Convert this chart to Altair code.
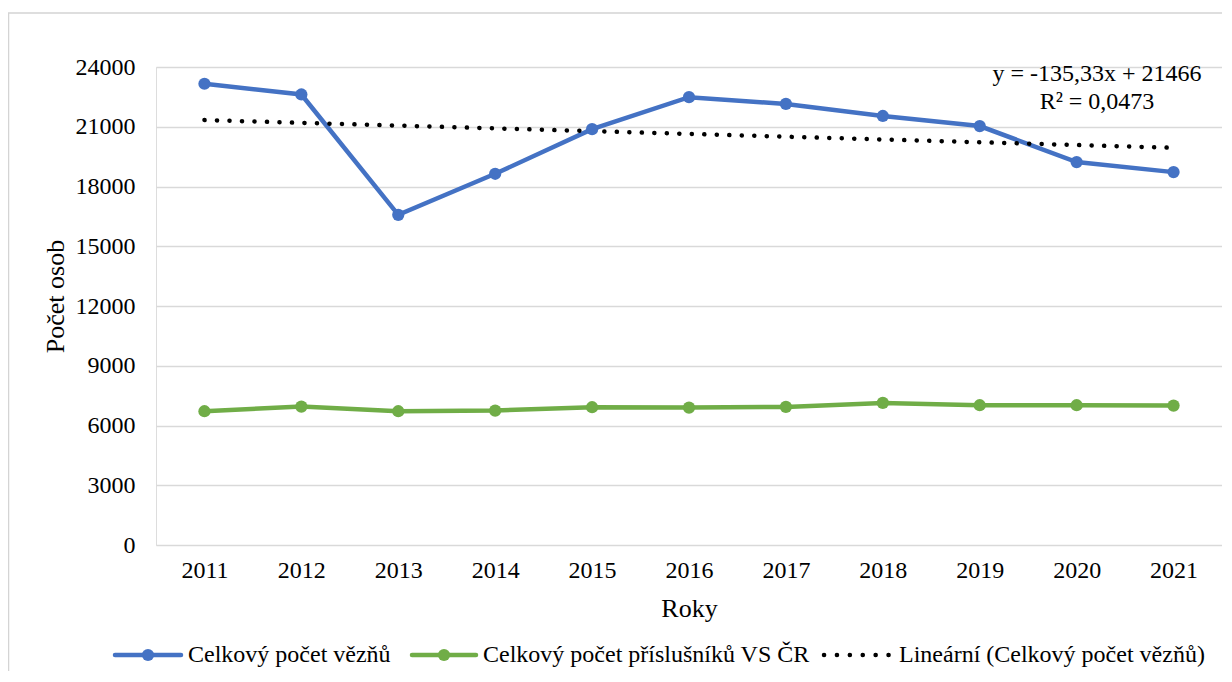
import altair as alt
import pandas as pd

years = [2011, 2012, 2013, 2014, 2015, 2016, 2017, 2018, 2019, 2020, 2021]
prisoners = [23159, 22621, 16579, 18638, 20880, 22485, 22146, 21540, 21035, 19227, 18722]
staff = [6717, 6950, 6717, 6750, 6917, 6900, 6933, 7133, 7017, 7017, 7000]
series_names = ["Celkový počet vězňů", "Celkový počet příslušníků VS ČR"]
trend_name = "Lineární (Celkový počet vězňů)"
colors = ["#4472C4", "#70AD47"]
y_ticks = [0, 3000, 6000, 9000, 12000, 15000, 18000, 21000, 24000]
equation_lines = ["y = -135,33x + 21466", "R² = 0,0473"]

FONT = "'Times New Roman', 'Liberation Serif', serif"
FS = 24
TFS = 26

df = pd.DataFrame({
    "year": years * 2,
    "value": prisoners + staff,
    "series": [series_names[0]] * len(years) + [series_names[1]] * len(years),
})
df_pris = pd.DataFrame({"year": years, "value": prisoners})

x_enc = alt.X("year:O", title="Roky",
              scale=alt.Scale(padding=0.5),
              axis=alt.Axis(labelAngle=0, ticks=False, domain=False, grid=False,
                            labelPadding=13, labelFontSize=FS, labelFont=FONT,
                            titleFontSize=TFS, titleFont=FONT, titleFontWeight="normal",
                            titleY=63, titleBaseline="middle"))
y_enc = alt.Y("value:Q", title="Počet osob",
              scale=alt.Scale(domain=[0, 24000], nice=False),
              axis=alt.Axis(values=y_ticks, format="d", ticks=False, domain=False,
                            grid=True, gridColor="#d9d9d9", gridWidth=1.3,
                            labelPadding=21, labelFontSize=FS, labelFont=FONT,
                            titleFontSize=TFS, titleFont=FONT, titleFontWeight="normal",
                            titleX=-101, titleY=229, titleBaseline="middle", titleAlign="center"))

color_scale = alt.Scale(domain=series_names, range=colors)

base = alt.Chart(df)
lines = base.mark_line(strokeWidth=4.5).encode(
    x=x_enc, y=y_enc,
    color=alt.Color("series:N", scale=color_scale, legend=None),
    detail="series:N",
)
points = base.mark_circle(size=150, opacity=1).encode(
    x="year:O", y="value:Q",
    color=alt.Color("series:N", scale=color_scale, legend=None),
)

trend = alt.Chart(df_pris).transform_regression("year", "value", method="linear").mark_line(
    color="black", strokeWidth=4.5, strokeDash=[0.1, 12.4], strokeCap="round"
).encode(x="year:O", y="value:Q")

one = pd.DataFrame({"k": [0]})

eq1 = alt.Chart(pd.DataFrame({"t": [equation_lines[0]]})).mark_text(
    font=FONT, fontSize=FS, align="center", baseline="middle", color="black"
).encode(x=alt.value(941), y=alt.value(7), text="t:N")
eq2 = alt.Chart(pd.DataFrame({"t": [equation_lines[1]]})).mark_text(
    font=FONT, fontSize=FS, align="center", baseline="middle", color="black"
).encode(x=alt.value(941), y=alt.value(35), text="t:N")

# manual legend
LY = 588
leg_blue_line = alt.Chart(one).mark_rule(color=colors[0], strokeWidth=4.5, strokeCap="round").encode(
    x=alt.value(-41), x2=alt.value(25), y=alt.value(LY))
leg_blue_pt = alt.Chart(one).mark_circle(color=colors[0], size=150, opacity=1).encode(
    x=alt.value(-8), y=alt.value(LY))
leg_blue_txt = alt.Chart(pd.DataFrame({"t": [series_names[0]]})).mark_text(
    font=FONT, fontSize=FS, align="left", baseline="middle", color="black").encode(
    x=alt.value(32), y=alt.value(LY), text="t:N")

leg_green_line = alt.Chart(one).mark_rule(color=colors[1], strokeWidth=4.5, strokeCap="round").encode(
    x=alt.value(256), x2=alt.value(320), y=alt.value(LY))
leg_green_pt = alt.Chart(one).mark_circle(color=colors[1], size=150, opacity=1).encode(
    x=alt.value(288), y=alt.value(LY))
leg_green_txt = alt.Chart(pd.DataFrame({"t": [series_names[1]]})).mark_text(
    font=FONT, fontSize=FS, align="left", baseline="middle", color="black").encode(
    x=alt.value(327), y=alt.value(LY), text="t:N")

leg_trend_line = alt.Chart(one).mark_rule(color="black", strokeWidth=4.5, strokeDash=[0.1, 12.8],
                                          strokeCap="round").encode(
    x=alt.value(668), x2=alt.value(733), y=alt.value(LY))
leg_trend_txt = alt.Chart(pd.DataFrame({"t": [trend_name]})).mark_text(
    font=FONT, fontSize=FS, align="left", baseline="middle", color="black").encode(
    x=alt.value(743), y=alt.value(LY), text="t:N")

# chart frame (only top and left edges fall inside the picture)
frame = alt.Chart(one).mark_rect(fill="white", fillOpacity=0, stroke="#d4d4d4", strokeWidth=1.5).encode(
    x=alt.value(-147.5), x2=alt.value(1100), y=alt.value(-54), y2=alt.value(700))

chart = alt.layer(
    frame,
    lines, trend, points, eq1, eq2,
    leg_blue_line, leg_blue_pt, leg_blue_txt,
    leg_green_line, leg_green_pt, leg_green_txt,
    leg_trend_line, leg_trend_txt,
).properties(
    width=1066, height=478,
    autosize=alt.AutoSizeParams(type="none"),
    padding={"left": 148, "top": 59, "right": 0, "bottom": 126},
).configure_view(strokeWidth=0).configure(background="white", font=FONT)

chart.save("out.html", embed_options={"renderer": "svg", "actions": False})
